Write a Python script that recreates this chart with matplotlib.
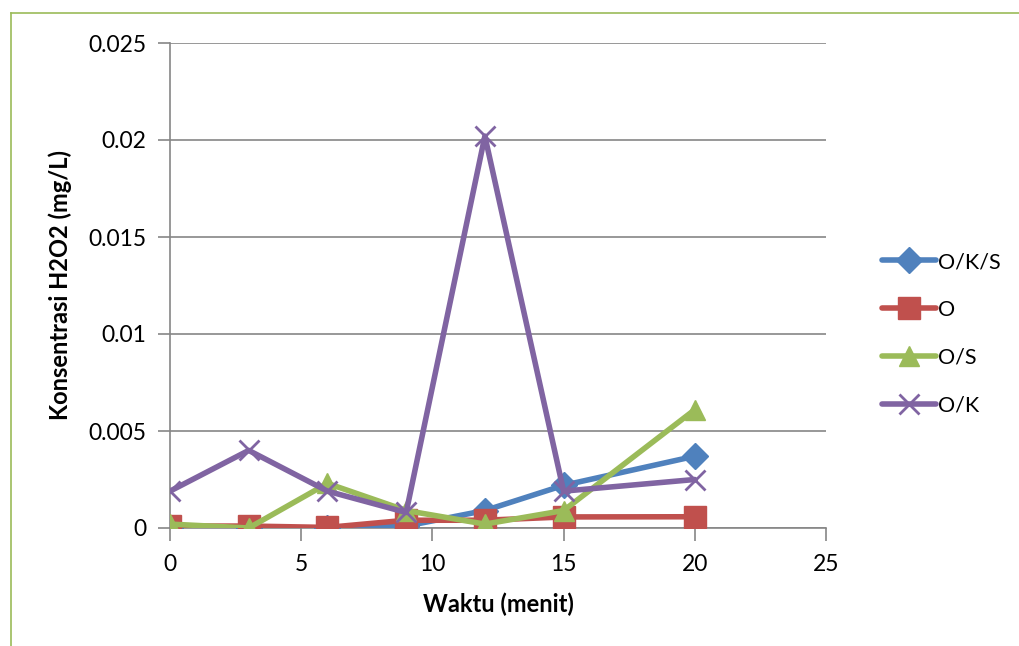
import matplotlib
matplotlib.use("Agg")
import matplotlib.pyplot as plt
from matplotlib.lines import Line2D

plt.rcParams['font.family'] = ['Lato', 'DejaVu Sans']

# Time (minutes) and H2O2 concentration (mg/L) for each treatment
waktu = [0, 3, 6, 9, 12, 15, 20]
o_k_s = [0.0000, 0.0000, 0.0000, 0.0001, 0.0009, 0.0022, 0.0037]
o = [0.0001, 0.0001, 0.00003, 0.0004, 0.0004, 0.00057, 0.00058]
o_s = [0.0002, 0.0000, 0.0023, 0.0009, 0.0002, 0.0009, 0.0061]
o_k = [0.0019, 0.0040, 0.0019, 0.0008, 0.0202, 0.0019, 0.0025]

series = [
    ("O/K/S", o_k_s, "#4F81BD", "D", 13),
    ("O", o, "#C0504D", "s", 16),
    ("O/S", o_s, "#9BBB59", "^", 15),
    ("O/K", o_k, "#8064A2", "x", 15),
]

fig = plt.figure(figsize=(10.19, 6.46), dpi=100)

# light green chart-area frame (top and left edges)
frame_x = 10.5 / 1019
frame_y = 1 - 12.5 / 646
fig.lines.append(Line2D([frame_x, 1.0], [frame_y, frame_y],
                        transform=fig.transFigure, color="#9BBB59", lw=1.2))
fig.lines.append(Line2D([frame_x, frame_x], [0.0, frame_y],
                        transform=fig.transFigure, color="#9BBB59", lw=1.2))

ax = fig.add_axes([170 / 1019, 1 - 528 / 646, 656 / 1019, 485 / 646])

for name, vals, color, marker, ms in series:
    ax.plot(waktu, vals, color=color, linewidth=4, marker=marker,
            markersize=ms, markeredgewidth=2 if marker == "x" else 1,
            markeredgecolor=color, markerfacecolor=color, label=name,
            solid_joinstyle="round", solid_capstyle="round", zorder=3)

ax.set_xlim(0, 25)
ax.set_ylim(0, 0.025)
ax.set_xticks([0, 5, 10, 15, 20, 25])
ax.set_yticks([0, 0.005, 0.01, 0.015, 0.02, 0.025])
ax.set_yticklabels(["0", "0.005", "0.01", "0.015", "0.02", "0.025"])
ax.yaxis.grid(True, color="#868686", linewidth=1.2)
ax.set_axisbelow(True)
for side in ("top", "right"):
    ax.spines[side].set_visible(False)
for side in ("left", "bottom"):
    ax.spines[side].set_color("#868686")
    ax.spines[side].set_linewidth(1.2)
ax.tick_params(axis="both", colors="#868686", width=1.2, length=9,
               labelcolor="black", labelsize=16.5)
ax.tick_params(axis="x", pad=10)
ax.tick_params(axis="y", pad=8)

ax.set_xlabel("Waktu (menit)", fontsize=17, fontweight="bold", labelpad=12)
ax.set_ylabel("Konsentrasi H2O2 (mg/L)", fontsize=17, fontweight="bold",
              labelpad=12)

leg = ax.legend(loc="center left", bbox_to_anchor=(1.072, 0.40),
                frameon=False, fontsize=15.5, handlelength=2.5,
                handletextpad=0.1, labelspacing=1.3, borderaxespad=0)

fig.savefig("out.png", dpi=100)
